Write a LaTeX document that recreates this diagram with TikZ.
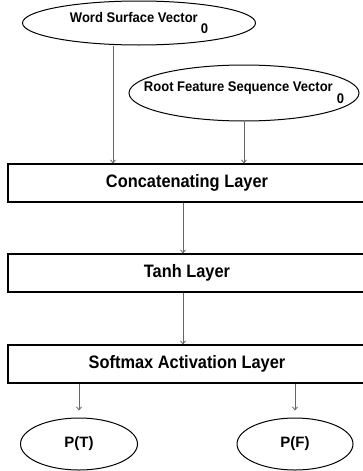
\documentclass[tikz,border=0pt]{standalone}
\usepackage{fontspec}
\setmainfont{Liberation Sans}
\usetikzlibrary{shapes.geometric,arrows.meta,calc}
\newcommand{\lyrtxt}[1]{\scalebox{0.91}[1]{#1}}
\newcommand{\intxt}[1]{\scalebox{0.93}[1]{#1}}
\begin{document}
\begin{tikzpicture}[x=1pt,y=-1pt,
  layerbox/.style={draw=black,line width=1.1pt,minimum width=358pt,minimum height=38pt,inner sep=0pt,
    font=\fontsize{18}{20}\selectfont\bfseries},
  inbox/.style={ellipse,draw=black,line width=1pt,inner sep=0pt,
    font=\fontsize{14}{16}\selectfont\bfseries},
  outbox/.style={ellipse,draw=black,line width=1pt,inner sep=0pt,minimum width=117pt,minimum height=52pt,
    font=\fontsize{15}{17}\selectfont\bfseries},
  arr/.style={draw=black!60,line width=0.8pt,-{Straight Barb[length=3pt,width=5pt]}}]
\useasboundingbox (0,0) rectangle (363,471);
\node[inbox,minimum width=233pt,minimum height=44pt] (wsv) at (139,23)
  {\makebox[0pt]{\intxt{Word Surface Vector}\hspace{3pt}\raisebox{-11pt}{\intxt{0}}}};
\node[inbox,minimum width=230pt,minimum height=56pt] (rfsv) at (244,93)
  {\makebox[0pt]{\intxt{Root Feature Sequence Vector}\hspace{4pt}\raisebox{-12pt}{\intxt{0}}}};
\node[layerbox] (concat) at (187,183) {\lyrtxt{Concatenating Layer}};
\node[layerbox] (tanh) at (187,273) {\lyrtxt{Tanh Layer}};
\node[layerbox] (soft) at (187,364) {\lyrtxt{Softmax Activation Layer}};
\node[outbox] (pt) at (79,444) {P(T)};
\node[outbox,minimum width=116pt] (pf) at (295,444) {P(F)};
\coordinate (colA) at (113,0);
\coordinate (colB) at (183,0);
\draw[arr] (colA |- wsv.south) -- (colA |- concat.north);
\draw[arr] (rfsv.south) -- (rfsv.south |- concat.north);
\draw[arr] (colB |- concat.south) -- (colB |- tanh.north);
\draw[arr] (colB |- tanh.south) -- (colB |- soft.north);
\draw[arr] (pt.north |- soft.south) -- ($(pt.north)+(0,-7)$);
\draw[arr] (pf.north |- soft.south) -- ($(pf.north)+(0,-7)$);
\end{tikzpicture}
\end{document}
